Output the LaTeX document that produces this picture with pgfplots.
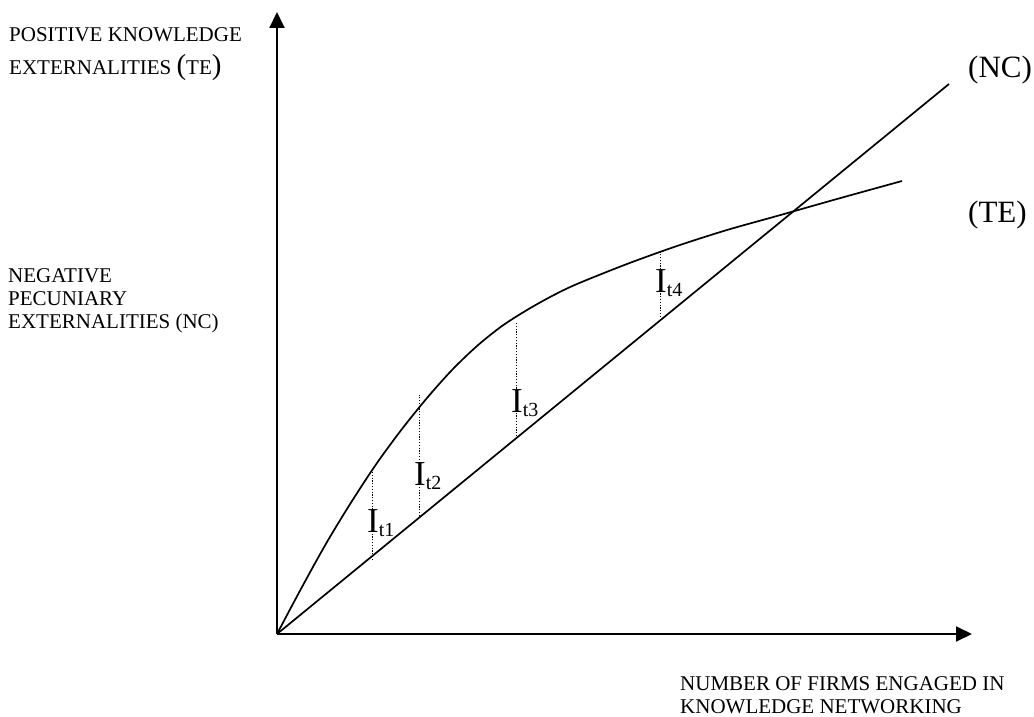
\documentclass[border=0pt]{standalone}
\usepackage{pgfplots}
\pgfplotsset{compat=1.18}
\usetikzlibrary{arrows.meta}
\usepackage{fontspec}
\setmainfont{Liberation Serif}
\begin{document}
\begin{tikzpicture}
\begin{axis}[
  scale only axis,
  width=695pt, height=622pt,
  xmin=0, xmax=695, ymin=0, ymax=622,
  enlargelimits=false,
  axis lines=left,
  axis line style={line width=2pt, -{Triangle[length=16pt,width=15pt]}},
  ticks=none,
  clip=false,
]
\path (axis cs:-277,-82) rectangle (axis cs:757,634);
% NC line
\addplot[black, line width=1.7pt] coordinates {(0,0) (672,550)};
% TE curve
\addplot[black, line width=1.7pt, smooth] coordinates {
(0,0) (25,47) (50,92) (75,133) (100,171) (125,205) (150,236) (175,264)
(200,288) (225,308) (250,324) (275,338) (300,350) (350,370) (400,388)
(450,404) (500,418) (560,435) (625,453)};
% dotted gaps
\addplot[black, line width=1pt, dash pattern=on 1.2pt off 1.6pt] coordinates {(96,74) (96,166)};
\addplot[black, line width=1pt, dash pattern=on 1.2pt off 1.6pt] coordinates {(143,118) (143,239)};
\addplot[black, line width=1pt, dash pattern=on 1.2pt off 1.6pt] coordinates {(240,195) (240,311)};
\addplot[black, line width=1pt, dash pattern=on 1.2pt off 1.6pt] coordinates {(384,317) (384,383)};
% I labels
\node[anchor=base west, inner sep=0pt] at (axis cs:90,102) {\fontsize{35}{35}\selectfont I\fontsize{20}{20}\selectfont\raisebox{-4pt}{t1}};
\node[anchor=base west, inner sep=0pt] at (axis cs:137,149) {\fontsize{35}{35}\selectfont I\fontsize{20}{20}\selectfont\raisebox{-4pt}{t2}};
\node[anchor=base west, inner sep=0pt] at (axis cs:234,222) {\fontsize{35}{35}\selectfont I\fontsize{20}{20}\selectfont\raisebox{-4pt}{t3}};
\node[anchor=base west, inner sep=0pt] at (axis cs:378,342) {\fontsize{35}{35}\selectfont I\fontsize{20}{20}\selectfont\raisebox{-4pt}{t4}};
% curve labels
\node[anchor=base west, inner sep=0pt] at (axis cs:691,556) {\fontsize{31}{31}\selectfont (NC)};
\node[anchor=base west, inner sep=0pt] at (axis cs:691,412) {\fontsize{31}{31}\selectfont (TE)};
% axis labels
\node[anchor=base west, inner sep=0pt] at (axis cs:-268,592) {\fontsize{21}{23}\selectfont POSITIVE KNOWLEDGE};
\node[anchor=base west, inner sep=0pt] at (axis cs:-268,559) {\fontsize{21}{23}\selectfont EXTERNALITIES {\fontsize{29}{29}\selectfont(}TE{\fontsize{29}{29}\selectfont)}};
\node[anchor=base west, inner sep=0pt] at (axis cs:-269,352) {\fontsize{21}{23}\selectfont NEGATIVE};
\node[anchor=base west, inner sep=0pt] at (axis cs:-269,329) {\fontsize{21}{23}\selectfont PECUNIARY};
\node[anchor=base west, inner sep=0pt] at (axis cs:-269,306) {\fontsize{21}{23}\selectfont EXTERNALITIES (NC)};
\node[anchor=base west, inner sep=0pt] at (axis cs:403,-56) {\fontsize{21}{23}\selectfont NUMBER OF FIRMS ENGAGED IN};
\node[anchor=base west, inner sep=0pt] at (axis cs:403,-79) {\fontsize{21}{23}\selectfont KNOWLEDGE NETWORKING};
\end{axis}
\end{tikzpicture}
\end{document}
